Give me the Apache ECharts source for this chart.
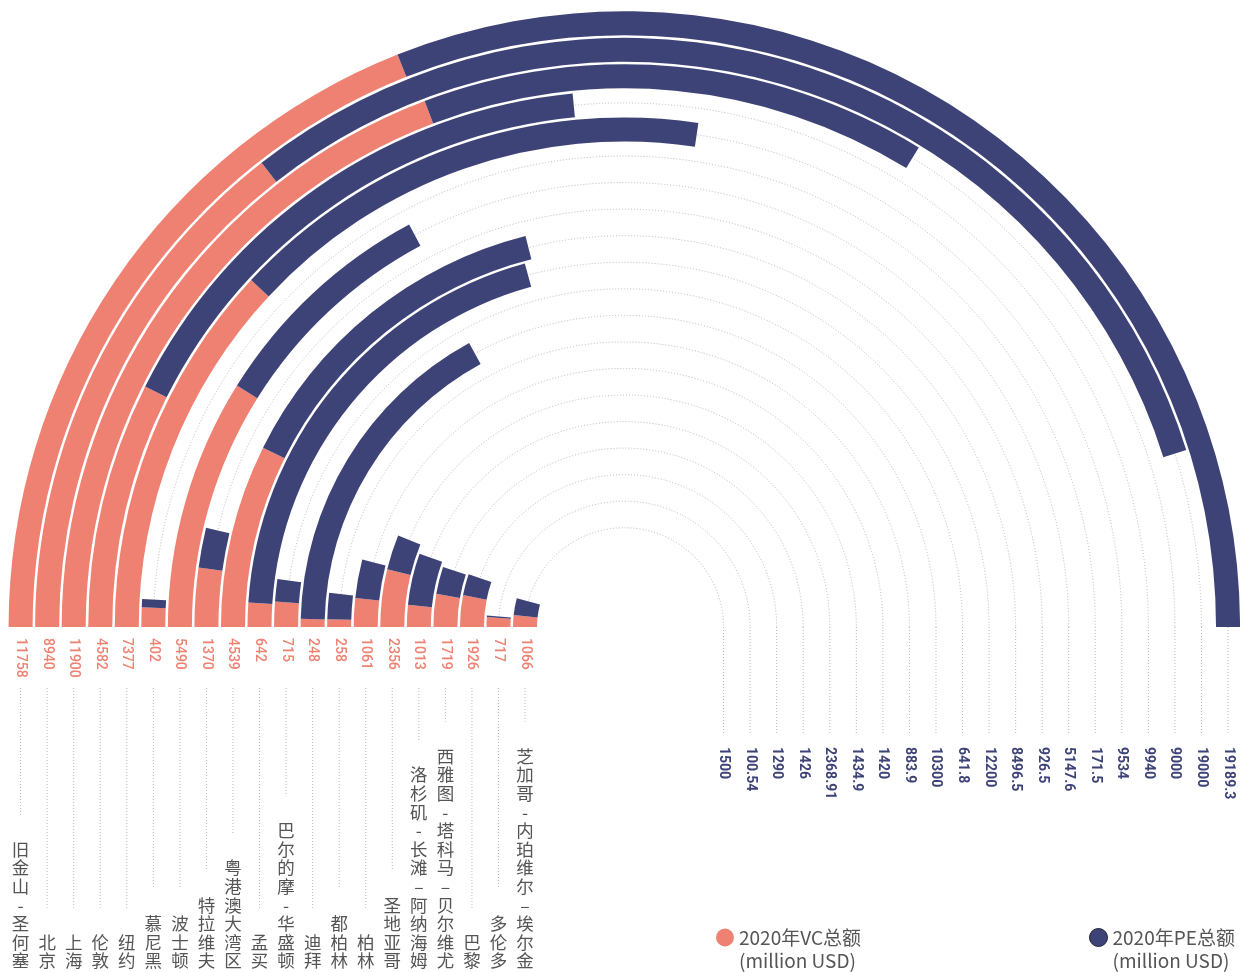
<!DOCTYPE html>
<html>
<head>
<meta charset="utf-8">
<title>2020 VC / PE</title>
<script src="https://cdn.jsdelivr.net/npm/echarts@6/dist/echarts.min.js"></script>
<style>
  html, body { margin: 0; padding: 0; background: #fff; }
  #chart { width: 1240px; height: 972px; }
</style>
</head>
<body>
<div id="chart"></div>
<script>
// 城市，由外圈到内圈
const cities = [
  '旧金山 - 圣何塞', '北京', '上海', '伦敦', '纽约', '慕尼黑', '波士顿', '特拉维夫',
  '粤港澳大湾区', '孟买', '巴尔的摩 - 华盛顿', '迪拜', '都柏林', '柏林', '圣地亚哥',
  '洛杉矶 - 长滩 – 阿纳海姆', '西雅图 - 塔科马 – 贝尔维尤', '巴黎', '多伦多',
  '芝加哥 - 内珀维尔 – 埃尔金'
]
// 2020年VC总额 (million USD)
const vcValues = [11758, 8940, 11900, 4582, 7377, 402, 5490, 1370, 4539, 642, 715, 248, 258, 1061, 2356, 1013, 1719, 1926, 717, 1066]
// 2020年PE总额 (million USD)
const peValues = [19189.3, 19000, 9000, 9940, 9534, 171.5, 5147.6, 926.5, 8496.5, 12200, 641.8, 10300, 883.9, 1420, 1434.9, 2368.91, 1426, 1290, 100.54, 1500]
const seriesNames = ['2020年VC总额', '2020年PE总额']

const PINK = '#EF8172'
const NAVY = '#3E4377'
const GREY = '#555555'
const CJK = "'Noto Sans CJK SC', 'Noto Sans', sans-serif"
const NUM = "Roboto, sans-serif"

// 最大合计值占半圆
const totals = vcValues.map((v, i) => v + peValues[i])
const halfMax = Math.max(...totals)

const chart = echarts.init(document.getElementById('chart'))

const dotted = { stroke: '#b8b8b8', lineWidth: 1, lineDash: [1, 2], fill: null }

// 虚线圆弧、引导线和文字
function renderGuide(params, api) {
  const cs = params.coordSys
  const idx = api.value(0)
  const p = api.coord([idx, 0])
  const r = Math.hypot(p[0] - cs.cx, p[1] - cs.cy)
  const xl = cs.cx - r
  const xr = cs.cx + r
  const chars = cities[idx].replace(/ /g, '').split('')
  const labelTop = 970 - chars.length * 18.6
  return {
    type: 'group',
    children: [
      {
        type: 'arc',
        shape: { cx: cs.cx, cy: cs.cy, r: r, startAngle: Math.PI, endAngle: Math.PI * 2, clockwise: true },
        style: dotted,
        silent: true,
      },
      { type: 'line', shape: { x1: xr, y1: cs.cy, x2: xr, y2: 733 }, style: dotted, silent: true },
      { type: 'line', shape: { x1: xl, y1: 688, x2: xl, y2: labelTop - 25 }, style: dotted, silent: true },
      {
        type: 'text',
        x: xl,
        y: 638,
        rotation: -Math.PI / 2,
        style: { text: String(vcValues[idx]), align: 'left', verticalAlign: 'middle', fill: PINK, fontSize: 14, fontWeight: 500, fontFamily: NUM },
      },
      {
        type: 'text',
        x: xr,
        y: 747,
        rotation: -Math.PI / 2,
        style: { text: String(peValues[idx]), align: 'left', verticalAlign: 'middle', fill: NAVY, fontSize: 14, fontWeight: 'bold', fontFamily: NUM },
      },
      {
        type: 'text',
        x: xl,
        y: 970,
        style: { text: chars.join('\n'), align: 'center', verticalAlign: 'bottom', lineHeight: 18.6, fontSize: 17.5, fill: GREY, fontFamily: CJK },
      },
    ],
  }
}

// 图例：第一行与圆点对齐
const legendBase = {
  icon: 'circle',
  itemWidth: 18,
  itemHeight: 18,
  top: 898,
  formatter: (name) => '\n' + name + '\n(million USD)',
  textStyle: { fontSize: 19, color: GREY, lineHeight: 23, fontFamily: CJK },
}

const option = {
  animation: false,
  backgroundColor: '#fff',
  legend: [
    Object.assign({}, legendBase, { data: [seriesNames[0]], left: 711 }),
    Object.assign({}, legendBase, { data: [seriesNames[1]], left: 1084, itemStyle: { borderColor: '#1e1f3a', borderWidth: 1 } }),
  ],
  polar: {
    center: [624.3, 627],
    radius: [86, 617],
  },
  angleAxis: {
    type: 'value',
    min: 0,
    max: halfMax * 2,
    startAngle: 180,
    clockwise: true,
    show: false,
  },
  radiusAxis: {
    type: 'category',
    data: cities,
    inverse: true,
    show: false,
  },
  series: [
    {
      name: seriesNames[0],
      type: 'bar',
      coordinateSystem: 'polar',
      stack: 'total',
      data: vcValues,
      barWidth: 24,
      itemStyle: { color: PINK },
      z: 3,
    },
    {
      name: seriesNames[1],
      type: 'bar',
      coordinateSystem: 'polar',
      stack: 'total',
      data: peValues,
      barWidth: 24,
      itemStyle: { color: NAVY },
      z: 3,
    },
    {
      type: 'custom',
      coordinateSystem: 'polar',
      data: cities.map((c) => [c, 0]),
      renderItem: renderGuide,
      silent: true,
      z: 1,
    },
  ],
}

chart.setOption(option)
</script>
</body>
</html>
